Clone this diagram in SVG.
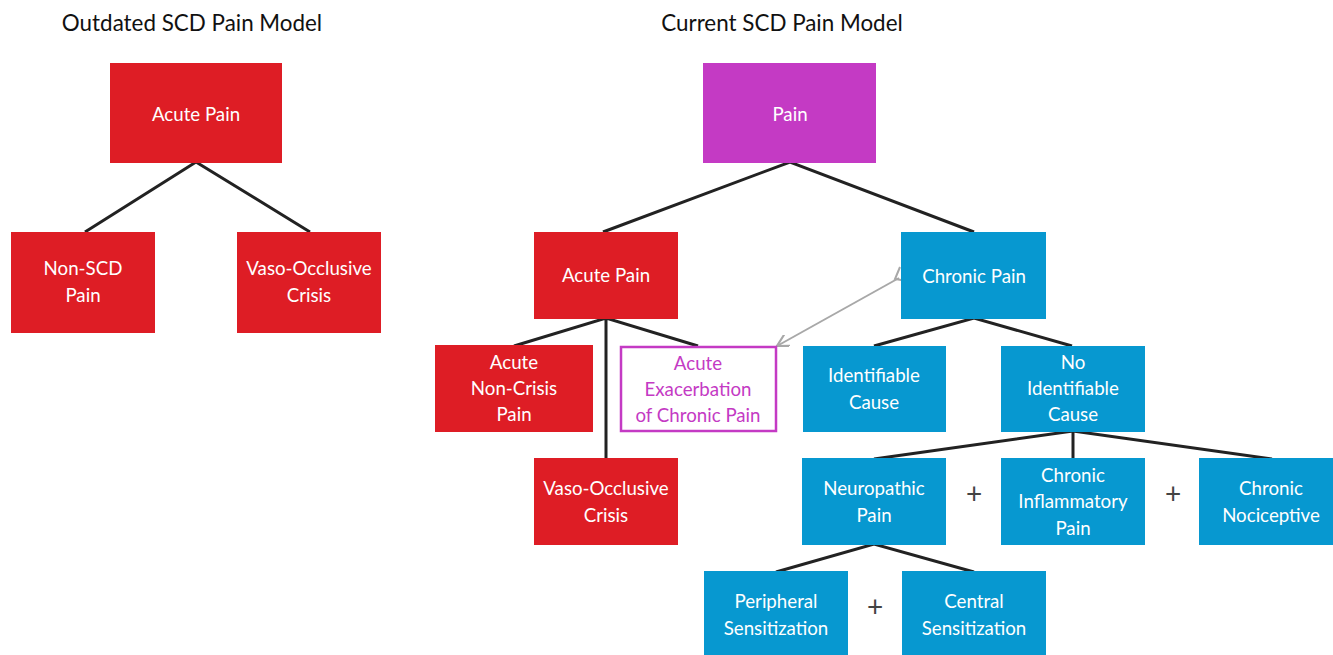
<svg xmlns="http://www.w3.org/2000/svg" width="1333" height="655" viewBox="0 0 1333 655">
<defs>
<style>
.red{fill:#DE1D25}
.mag{fill:#C43AC4}
.blue{fill:#0798D0}
.t{font-family:Lato,"Liberation Sans",sans-serif;font-size:18.7px;fill:#fff;text-anchor:middle}
.tm{font-family:Lato,"Liberation Sans",sans-serif;font-size:18.7px;fill:#C43AC4;text-anchor:middle}
.title{font-family:Lato,"Liberation Sans",sans-serif;font-size:22.4px;fill:#111;text-anchor:middle}
.plus{font-family:Lato,"Liberation Sans",sans-serif;font-size:28px;fill:#444;text-anchor:middle}
.ln{stroke:#222;stroke-width:3;fill:none}
</style>
<marker id="open" viewBox="0 0 12 12" refX="11" refY="6" markerWidth="13" markerHeight="13" markerUnits="userSpaceOnUse" orient="auto">
<path d="M0,0 L11,6 L0,12" fill="none" stroke="#A8A8A8" stroke-width="2"/>
</marker>
</defs>
<rect width="1333" height="655" fill="#fff"/>
<text class="title" x="192" y="31">Outdated SCD Pain Model</text>
<text class="title" x="782" y="31">Current SCD Pain Model</text>
<g id="connectors">
<path class="ln" d="M85,232 L196,162 L310,232"/>
<path class="ln" d="M603,232 L790,162 L974,232"/>
<path class="ln" d="M514,346 L606,318 L698,346 M606,318 L606,458"/>
<path class="ln" d="M874,346 L974,318 L1072,346"/>
<path class="ln" d="M874,459 L1073,431 L1272,459 M1073,431 L1073,458"/>
<path class="ln" d="M776,572 L874,544 L974,572"/>
<line x1="899" y1="278" x2="777" y2="346" stroke="#A8A8A8" stroke-width="2" marker-end="url(#open)"/>
<polyline points="900,267 895,279 907,281" fill="none" stroke="#A8A8A8" stroke-width="2"/>
</g>
<g id="l-acute"><rect class="red" x="110" y="63" width="172" height="100"/><text class="t" x="196" y="121">Acute Pain</text></g>
<g id="l-nonscd"><rect class="red" x="11" y="232" width="144" height="101"/><text class="t" x="83" y="275">Non-SCD</text><text class="t" x="83" y="302">Pain</text></g>
<g id="l-voc"><rect class="red" x="237" y="232" width="144" height="101"/><text class="t" x="309" y="275">Vaso-Occlusive</text><text class="t" x="309" y="302">Crisis</text></g>
<g id="pain"><rect class="mag" x="703" y="63" width="173" height="100"/><text class="t" x="790" y="121">Pain</text></g>
<g id="acute"><rect class="red" x="534" y="232" width="144" height="87"/><text class="t" x="606" y="282">Acute Pain</text></g>
<g id="chronic"><rect class="blue" x="901" y="232" width="145" height="87"/><text class="t" x="974" y="283">Chronic Pain</text></g>
<g id="noncrisis"><rect class="red" x="435" y="345" width="158" height="87"/><text class="t" x="514" y="369">Acute</text><text class="t" x="514" y="395">Non-Crisis</text><text class="t" x="514" y="421">Pain</text></g>
<g id="exacerbation"><rect x="621" y="347" width="155" height="84" fill="#fff" stroke="#C43AC4" stroke-width="2.5"/><text class="tm" x="698" y="370">Acute</text><text class="tm" x="698" y="396">Exacerbation</text><text class="tm" x="698" y="422">of Chronic Pain</text></g>
<g id="voc"><rect class="red" x="534" y="458" width="144" height="87"/><text class="t" x="606" y="495">Vaso-Occlusive</text><text class="t" x="606" y="522">Crisis</text></g>
<g id="identifiable"><rect class="blue" x="803" y="346" width="143" height="86"/><text class="t" x="874" y="382">Identifiable</text><text class="t" x="874" y="409">Cause</text></g>
<g id="noidentifiable"><rect class="blue" x="1001" y="346" width="144" height="86"/><text class="t" x="1073" y="369">No</text><text class="t" x="1073" y="395">Identifiable</text><text class="t" x="1073" y="421">Cause</text></g>
<g id="neuropathic"><rect class="blue" x="802" y="458" width="144" height="87"/><text class="t" x="874" y="495">Neuropathic</text><text class="t" x="874" y="522">Pain</text></g>
<g id="inflammatory"><rect class="blue" x="1001" y="458" width="144" height="87"/><text class="t" x="1073" y="482">Chronic</text><text class="t" x="1073" y="508">Inflammatory</text><text class="t" x="1073" y="535">Pain</text></g>
<g id="nociceptive"><rect class="blue" x="1199" y="458" width="140" height="87"/><text class="t" x="1271" y="495">Chronic</text><text class="t" x="1271" y="522">Nociceptive</text></g>
<g id="peripheral"><rect class="blue" x="704" y="571" width="144" height="90"/><text class="t" x="776" y="608">Peripheral</text><text class="t" x="776" y="635">Sensitization</text></g>
<g id="central"><rect class="blue" x="902" y="571" width="144" height="90"/><text class="t" x="974" y="608">Central</text><text class="t" x="974" y="635">Sensitization</text></g>
<text class="plus" x="974" y="504">+</text>
<text class="plus" x="1173" y="504">+</text>
<text class="plus" x="875" y="617">+</text>
</svg>
